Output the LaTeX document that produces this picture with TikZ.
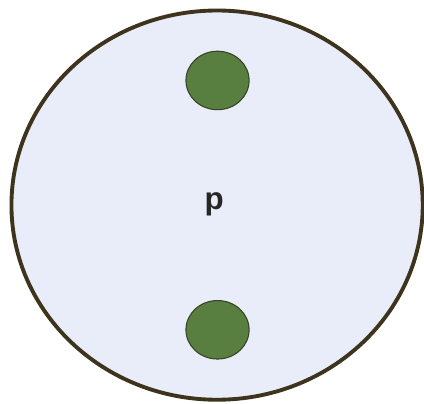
\documentclass[tikz,border=0pt]{standalone}
\usepackage{fontspec}
\setmainfont{Liberation Sans}
\usetikzlibrary{shapes.geometric}
\definecolor{cellfill}{RGB}{233,237,249}
\definecolor{cellline}{RGB}{62,52,30}
\definecolor{dotfill}{RGB}{88,126,64}
\definecolor{dotline}{RGB}{52,66,38}
\tikzset{
  cell/.style={ellipse, draw=cellline, fill=cellfill, line width=2.6pt,
    minimum width=9.7cm, minimum height=9.18cm, inner sep=0pt},
  pole/.style={ellipse, draw=dotline, fill=dotfill, line width=0.7pt,
    minimum width=1.49cm, minimum height=1.38cm, inner sep=0pt},
  label/.style={font=\fontsize{21}{25}\selectfont\bfseries, text=black!85}
}
\begin{document}
\begin{tikzpicture}
  % fixed page size
  \useasboundingbox (0,0) rectangle (10,9.528);

  % the big outline
  \node[cell] (cell) at (5.12,4.69) {};

  % two poles, top and bottom
  \node[pole] (top) at (5.13,7.63) {};
  \node[pole] (bottom) at (5.13,1.75) {};

  % letter in the middle
  \node[label] (p) at (5.05,4.72) {p};
\end{tikzpicture}
\end{document}
